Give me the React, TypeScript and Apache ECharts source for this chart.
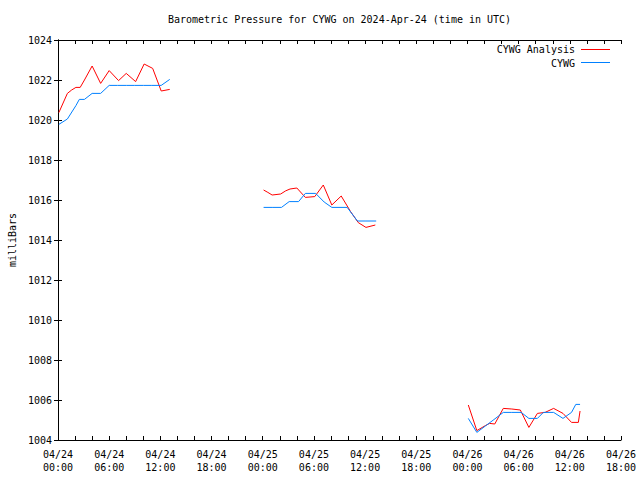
import React, { useEffect, useRef } from "react";
import * as echarts from "echarts";

const TITLE = "Barometric Pressure for CYWG on 2024-Apr-24 (time in UTC)";
const Y_NAME = "milliBars";
const SERIES_NAMES = ["CYWG Analysis", "CYWG"];
const COLORS = ["#ff0000", "#0080ff"];

// x positions are hours after 04/24 00:00 UTC; null marks a gap in the record
const tickLabels = [
  "04/24\n00:00", "04/24\n06:00", "04/24\n12:00", "04/24\n18:00",
  "04/25\n00:00", "04/25\n06:00", "04/25\n12:00", "04/25\n18:00",
  "04/26\n00:00", "04/26\n06:00", "04/26\n12:00", "04/26\n18:00",
];

const analysisHours = [
  0.1, 1.1, 1.6, 2.1, 2.6, 3.1, 4.0, 5.0, 6.0, 7.1, 8.0, 9.1, 10.1, 11.1, 12.1, 13.1,
  18,
  24.1, 24.6, 25.1, 26.1, 26.7, 27.2, 28.0, 29.0, 30.1, 31.1, 32.1, 33.2, 34.3, 35.2, 36.1, 37.2,
  42,
  48.1, 49.1, 50.1, 50.6, 51.2, 52.2, 53.2, 54.2, 55.2, 56.2, 57.1, 58.1, 59.2, 60.2, 61.0, 61.2,
];
const analysisMb = [
  1020.37, 1021.33, 1021.5, 1021.63, 1021.63, 1022.0, 1022.7, 1021.83, 1022.47, 1021.97, 1022.33, 1021.92, 1022.8, 1022.58, 1021.45, 1021.53,
  null,
  1016.5, 1016.38, 1016.25, 1016.3, 1016.46, 1016.55, 1016.6, 1016.13, 1016.17, 1016.75, 1015.75, 1016.2, 1015.42, 1014.87, 1014.63, 1014.75,
  null,
  1005.75, 1004.47, 1004.72, 1004.83, 1004.8, 1005.58, 1005.55, 1005.5, 1004.63, 1005.33, 1005.38, 1005.58, 1005.33, 1004.88, 1004.88, 1005.45,
];

const obsHours = [
  0.1, 1.1, 2.1, 2.5, 3.1, 4.0, 5.0, 6.0, 7.0, 8.0, 9.0, 10.0, 11.0, 12.1, 13.1,
  18,
  24.1, 25.1, 26.2, 27.1, 28.2, 29.0, 30.2, 31.2, 32.1, 33.9, 35.1, 36.1, 37.3,
  42,
  48.1, 49.1, 50.1, 51.1, 52.2, 53.2, 54.3, 55.2, 56.2, 56.9, 58.1, 59.2, 60.2, 60.7, 61.2,
];
const obsMb = [
  1019.78, 1020.05, 1020.72, 1021.03, 1021.03, 1021.33, 1021.33, 1021.73, 1021.73, 1021.73, 1021.73, 1021.73, 1021.73, 1021.73, 1022.03,
  null,
  1015.63, 1015.63, 1015.63, 1015.92, 1015.92, 1016.33, 1016.33, 1015.9, 1015.63, 1015.63, 1014.95, 1014.95, 1014.95,
  null,
  1005.08, 1004.38, 1004.7, 1005.02, 1005.38, 1005.38, 1005.38, 1005.08, 1005.08, 1005.38, 1005.38, 1005.08, 1005.38, 1005.78, 1005.78,
];

const FONT = "DejaVu Sans Mono";

function pairs(hours: number[], vals: (number | null)[]) {
  return hours.map((h, i) => [h, vals[i] == null ? "-" : vals[i]]);
}

export default function App() {
  const ref = useRef<HTMLDivElement>(null);
  useEffect(() => {
    if (!ref.current) return;
    const chart = echarts.init(ref.current, null, { renderer: "svg" });
    const axisLine = { show: true, lineStyle: { color: "#000", width: 1 } };
    const tick = { show: true, inside: true, length: 4, lineStyle: { color: "#000" } };
    const xBase = {
      type: "value" as const,
      min: 0,
      max: 66,
      interval: 2,
      axisLine,
      axisTick: tick,
      splitLine: { show: false },
    };
    const yBase = {
      type: "value" as const,
      min: 1004,
      max: 1024,
      interval: 2,
      axisLine,
      axisTick: tick,
      splitLine: { show: false },
    };
    chart.setOption({
      animation: false,
      backgroundColor: "#fff",
      grid: {
        left: 58,
        right: 19,
        top: 40,
        bottom: 40,
        containLabel: false,
        outerBoundsMode: "none",
      },
      xAxis: [
        {
          ...xBase,
          position: "bottom",
          axisLabel: {
            color: "#000",
            fontFamily: FONT,
            fontSize: 10,
            lineHeight: 13,
            margin: 8,
            formatter: (v: number) =>
              Math.round(v) % 6 === 0 ? tickLabels[Math.round(v) / 6] ?? "" : "",
          },
        },
        { ...xBase, position: "top", axisLabel: { show: false } },
      ],
      yAxis: [
        {
          ...yBase,
          position: "left",
          name: Y_NAME,
          nameLocation: "middle",
          nameGap: 41,
          nameTextStyle: { color: "#000", fontFamily: FONT, fontSize: 10 },
          axisLabel: {
            color: "#000",
            fontFamily: FONT,
            fontSize: 10,
            margin: 6,
            formatter: (v: number) => String(Math.round(v)),
          },
        },
        { ...yBase, position: "right", axisLabel: { show: false } },
      ],
      series: [
        {
          name: SERIES_NAMES[0],
          type: "line",
          data: pairs(analysisHours, analysisMb),
          showSymbol: false,
          connectNulls: false,
          lineStyle: { color: COLORS[0], width: 1 },
          itemStyle: { color: COLORS[0] },
        },
        {
          name: SERIES_NAMES[1],
          type: "line",
          data: pairs(obsHours, obsMb),
          showSymbol: false,
          connectNulls: false,
          lineStyle: { color: COLORS[1], width: 1 },
          itemStyle: { color: COLORS[1] },
        },
      ],
      graphic: [
        {
          type: "text",
          x: 339.5,
          y: 19,
          style: {
            text: TITLE,
            fill: "#000",
            font: `10px ${FONT}`,
            textAlign: "center",
            textVerticalAlign: "middle",
          },
        },
        {
          type: "text",
          x: 575,
          y: 49,
          style: {
            text: SERIES_NAMES[0],
            fill: "#000",
            font: `10px ${FONT}`,
            textAlign: "right",
            textVerticalAlign: "middle",
          },
        },
        {
          type: "line",
          shape: { x1: 581, y1: 49.5, x2: 610, y2: 49.5 },
          style: { stroke: COLORS[0], lineWidth: 1 },
        },
        {
          type: "text",
          x: 575,
          y: 63,
          style: {
            text: SERIES_NAMES[1],
            fill: "#000",
            font: `10px ${FONT}`,
            textAlign: "right",
            textVerticalAlign: "middle",
          },
        },
        {
          type: "line",
          shape: { x1: 581, y1: 62.5, x2: 610, y2: 62.5 },
          style: { stroke: COLORS[1], lineWidth: 1 },
        },
      ],
    });
    return () => chart.dispose();
  }, []);
  return (
    <div
      ref={ref}
      style={{ position: "fixed", left: 0, top: 0, width: 640, height: 480, background: "#fff" }}
    />
  );
}
